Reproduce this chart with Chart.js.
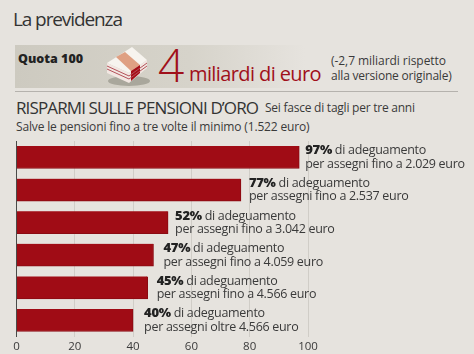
<!DOCTYPE html>
<html lang="it">
<head>
<meta charset="utf-8">
<title>La previdenza</title>
<script src="https://cdn.jsdelivr.net/npm/chart.js@4"></script>
<style>
  html, body { margin: 0; padding: 0; }
  body { width: 474px; height: 354px; background: #e6e3de; overflow: hidden; position: relative; font-family: "Open Sans", sans-serif; color: #3a3a3a; }
  .box { position: absolute; left: 15px; top: 45px; width: 290px; height: 43px; background: linear-gradient(to right, #cdcac0 0%, #d6d3ca 60%, #e6e3de 100%); }
  .rule { position: absolute; left: 15px; top: 91px; width: 443px; height: 1px; background: #b5b2ad; }
  .t { position: absolute; white-space: nowrap; line-height: 1; }
  svg { position: absolute; left: 104px; top: 44px; }
  canvas { position: absolute; left: 0; top: 0; }
</style>
</head>
<body>
<div class="t" style="left:13px;top:10px;font-size:19px;letter-spacing:-1.1px;color:#333">La previdenza</div>
<div class="box"></div>
<div class="t" style="left:18px;top:53px;font-size:12.5px;font-weight:800;color:#222">Quota 100</div>
<svg width="48" height="44" viewBox="0 0 48 44">
  <ellipse cx="25" cy="37" rx="21" ry="5" fill="#a9a79c" />
  <polygon points="3,19 28,3 43,16 25,29" fill="#f7f4ef" />
  <polygon points="3,19 25,29 25,39 3,29" fill="#f2e7e2" />
  <polygon points="25,29 43,16 43,24 25,39" fill="#f2e7e2" />
  <polygon points="12,13 21,8 36,21 27,27" fill="#dfa083" />
  <polygon points="27,27 36,21 36,29 27,37" fill="#a60d16" />
  <path d="M3 22 L25 32 L43 19 M3 25 L25 35 L43 22" fill="none" stroke="#b4525a" stroke-width="1" />
</svg>
<div class="t" style="left:158px;top:41px;font-size:46px;font-weight:300;color:#a0101a">4</div>
<div class="t" style="left:189px;top:64px;font-size:20px;letter-spacing:-.6px;color:#a0101a">miliardi di euro</div>
<div class="t" style="left:331px;top:55px;font-size:12px;letter-spacing:-.05px">(-2,7 miliardi rispetto</div>
<div class="t" style="left:331px;top:70px;font-size:12px;letter-spacing:-.2px">alla versione originale)</div>
<div class="rule"></div>
<div class="t" style="left:16px;top:99px;font-size:17px;letter-spacing:-.88px;color:#333">RISPARMI SULLE PENSIONI D’ORO</div>
<div class="t" style="left:265px;top:102px;font-size:12px;letter-spacing:-.24px">Sei fasce di tagli per tre anni</div>
<div class="t" style="left:16px;top:121px;font-size:12px;letter-spacing:-.15px">Salve le pensioni fino a tre volte il minimo (1.522 euro)</div>
<canvas id="chart" width="474" height="354"></canvas>
<script>
const categories = ["fino a 2.029 euro", "fino a 2.537 euro", "fino a 3.042 euro", "fino a 4.059 euro", "fino a 4.566 euro", "oltre 4.566 euro"];
const adeguamento = [97, 77, 52, 47, 45, 40];
const xTicks = [0, 20, 40, 60, 80, 100];

// the paper set each label by hand, so the gap after the bar is not constant
const labelGaps = [6, 8, 7, 10, 9, 11];

const barLabels = {
    id: "barLabels",
    afterDatasetsDraw(chart) {
        const { ctx } = chart;
        const meta = chart.getDatasetMeta(0);
        ctx.save();
        ctx.textBaseline = "middle";
        ctx.letterSpacing = "-0.3px";
        meta.data.forEach((bar, i) => {
            const x = bar.x + labelGaps[i];
            const pct = `${adeguamento[i]}%`;
            ctx.font = "800 13px 'Open Sans', sans-serif";
            ctx.fillStyle = "#222";
            ctx.fillText(pct, x, bar.y - 6.5);
            const w = ctx.measureText(pct).width;
            ctx.font = "12.5px 'Open Sans', sans-serif";
            ctx.fillStyle = "#3a3a3a";
            ctx.fillText(" di adeguamento", x + w, bar.y - 6.5);
            ctx.fillText(`per assegni ${categories[i]}`, x, bar.y + 7);
        });
        ctx.restore();
    },
};

new Chart(document.getElementById("chart"), {
    type: "bar",
    data: {
        labels: categories,
        datasets: [{
            data: adeguamento,
            backgroundColor: "#a00c15",
            borderColor: "#8a0a12",
            borderWidth: { right: 1, bottom: 1 },
            borderSkipped: false,
            barThickness: 22.5,
        }],
    },
    options: {
        indexAxis: "y",
        responsive: false,
        animation: false,
        layout: { padding: { left: 16.5, right: 166, top: 141, bottom: 0 } },
        plugins: { legend: { display: false }, tooltip: { enabled: false } },
        scales: {
            x: {
                min: 0,
                max: 100,
                afterBuildTicks(scale) {
                    scale.ticks = xTicks.map((value) => ({ value }));
                },
                afterFit(scale) {
                    scale.height = 17.5;
                },
                border: { display: false },
                grid: {
                    drawTicks: false,
                    lineWidth: 1,
                    color: (c) => (c.tick && c.tick.value === 0 ? "rgba(0,0,0,0)" : "#d0cdc7"),
                },
                ticks: {
                    padding: 3,
                    maxRotation: 0,
                    color: "#3a3a3a",
                    font: { family: "'Open Sans', sans-serif", size: 11.5 },
                },
            },
            y: {
                afterFit(scale) {
                    scale.width = 0;
                },
                border: { color: "#4a4a48", width: 1 },
                grid: { display: false },
                ticks: { display: false },
            },
        },
    },
    plugins: [barLabels],
});
</script>
</body>
</html>
